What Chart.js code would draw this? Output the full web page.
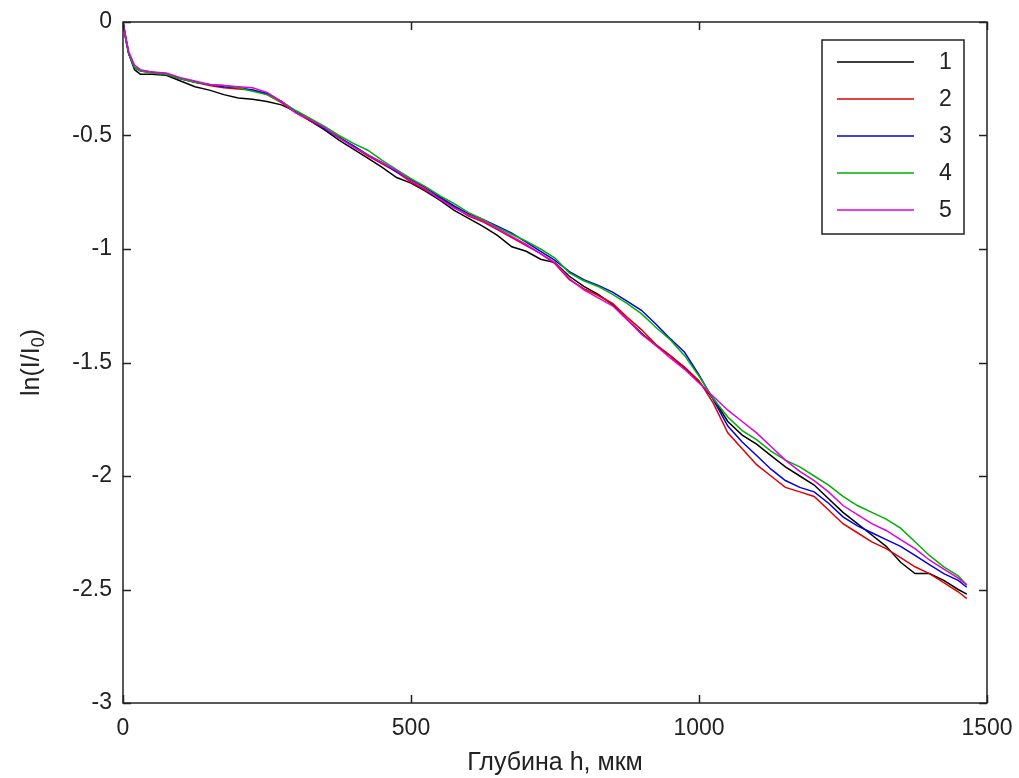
<!DOCTYPE html>
<html>
<head>
<meta charset="utf-8">
<title>ln(I/I0) vs depth</title>
<script src="https://cdn.jsdelivr.net/npm/chart.js@4.4.1/dist/chart.umd.min.js"></script>
<style>
    html, body { margin: 0; padding: 0; background: #fff; }
    canvas { display: block; }
</style>
</head>
<body>
<canvas id="chart" width="1019" height="778"></canvas>
<script>
// depth, µm
const depth = [0, 5, 10, 20, 30, 50, 75, 100, 125, 150, 175, 200, 225, 250, 275, 300, 325, 350, 375, 400,
    425, 450, 475, 500, 525, 550, 575, 600, 625, 650, 675, 700, 725, 750, 775, 800, 825, 850, 875, 900,
    925, 950, 975, 1000, 1025, 1050, 1075, 1100, 1125, 1150, 1175, 1200, 1225, 1250, 1275, 1300, 1325, 1350, 1375, 1400,
    1425, 1450, 1465];

// ln(I/I0) for curves 1..5
const curve1 = [0, -0.07, -0.14, -0.21, -0.23, -0.23, -0.235, -0.26, -0.285, -0.30, -0.32, -0.335, -0.34, -0.35, -0.365, -0.395, -0.435, -0.475, -0.52, -0.56,
    -0.60, -0.64, -0.685, -0.71, -0.745, -0.785, -0.83, -0.865, -0.90, -0.94, -0.99, -1.01, -1.045, -1.06, -1.12, -1.165, -1.20, -1.245, -1.31, -1.37,
    -1.425, -1.47, -1.525, -1.585, -1.66, -1.76, -1.82, -1.86, -1.91, -1.96, -2.00, -2.04, -2.10, -2.16, -2.21, -2.26, -2.31, -2.38, -2.43, -2.43,
    -2.46, -2.50, -2.52];
const curve2 = [0, -0.08, -0.14, -0.20, -0.215, -0.225, -0.23, -0.25, -0.265, -0.28, -0.29, -0.295, -0.30, -0.32, -0.355, -0.40, -0.435, -0.47, -0.505, -0.55,
    -0.59, -0.625, -0.66, -0.705, -0.74, -0.775, -0.815, -0.855, -0.88, -0.915, -0.95, -0.985, -1.02, -1.065, -1.135, -1.175, -1.205, -1.24, -1.30, -1.355,
    -1.42, -1.47, -1.52, -1.58, -1.68, -1.81, -1.88, -1.95, -2.00, -2.05, -2.07, -2.09, -2.15, -2.21, -2.25, -2.29, -2.32, -2.36, -2.40, -2.43,
    -2.47, -2.51, -2.54];
const curve3 = [0, -0.08, -0.14, -0.20, -0.215, -0.22, -0.23, -0.25, -0.265, -0.275, -0.285, -0.29, -0.30, -0.315, -0.35, -0.395, -0.43, -0.47, -0.51, -0.545,
    -0.585, -0.62, -0.66, -0.695, -0.73, -0.77, -0.81, -0.845, -0.87, -0.90, -0.93, -0.97, -1.01, -1.05, -1.10, -1.135, -1.16, -1.19, -1.23, -1.27,
    -1.33, -1.395, -1.455, -1.555, -1.665, -1.78, -1.85, -1.91, -1.97, -2.02, -2.05, -2.07, -2.12, -2.18, -2.22, -2.25, -2.28, -2.31, -2.35, -2.39,
    -2.43, -2.46, -2.49];
const curve4 = [0, -0.08, -0.14, -0.20, -0.215, -0.225, -0.23, -0.25, -0.265, -0.275, -0.28, -0.29, -0.305, -0.32, -0.35, -0.39, -0.425, -0.46, -0.50, -0.535,
    -0.565, -0.61, -0.65, -0.69, -0.725, -0.765, -0.80, -0.84, -0.87, -0.905, -0.935, -0.965, -1.00, -1.04, -1.105, -1.14, -1.165, -1.20, -1.24, -1.285,
    -1.345, -1.40, -1.47, -1.56, -1.66, -1.74, -1.80, -1.84, -1.89, -1.93, -1.96, -2.00, -2.04, -2.09, -2.13, -2.16, -2.19, -2.23, -2.29, -2.35,
    -2.40, -2.44, -2.48];
const curve5 = [0, -0.07, -0.13, -0.19, -0.21, -0.22, -0.225, -0.245, -0.26, -0.275, -0.28, -0.285, -0.29, -0.31, -0.35, -0.40, -0.43, -0.465, -0.51, -0.55,
    -0.585, -0.62, -0.655, -0.70, -0.735, -0.78, -0.82, -0.85, -0.875, -0.91, -0.945, -0.98, -1.02, -1.06, -1.13, -1.18, -1.215, -1.25, -1.31, -1.375,
    -1.425, -1.48, -1.53, -1.59, -1.65, -1.71, -1.76, -1.81, -1.87, -1.93, -1.98, -2.02, -2.07, -2.13, -2.17, -2.21, -2.24, -2.28, -2.32, -2.37,
    -2.41, -2.45, -2.48];

const curveLabels = ['1', '2', '3', '4', '5'];
const curveColors = ['#000000', '#e00000', '#0000e0', '#00b000', '#e000e0'];
const xTicks = [0, 500, 1000, 1500];
const yTicks = [0, -0.5, -1, -1.5, -2, -2.5, -3];

const FONT = '"Liberation Sans", Arial, sans-serif';
const INK = '#222';

document.addEventListener("DOMContentLoaded", () => {
    renderChart();
});

function renderChart() {
    const curves = [curve1, curve2, curve3, curve4, curve5];
    const datasets = curves.map((values, i) => ({
        label: curveLabels[i],
        data: values.map((v, k) => ({ x: depth[k], y: v })),
        borderColor: curveColors[i],
        borderWidth: 1.5,
        pointRadius: 0,
        tension: 0,
        fill: false,
        order: curves.length - 1 - i
    }));

    new Chart(document.getElementById('chart').getContext('2d'), {
        type: 'line',
        data: { datasets: datasets },
        options: {
            responsive: false,
            devicePixelRatio: 1,
            animation: false,
            layout: { padding: { top: 22, right: 32, left: 0, bottom: 0 } },
            plugins: {
                legend: { display: false },
                tooltip: { enabled: false }
            },
            scales: {
                x: {
                    type: 'linear',
                    min: 0,
                    max: 1500,
                    afterBuildTicks: scale => { scale.ticks = xTicks.map(v => ({ value: v })); },
                    afterFit: scale => {
                        scale.height = 75;
                        scale.paddingLeft = 0;
                        scale.paddingRight = 0;
                    },
                    grid: { display: false, drawTicks: false, tickLength: 0 },
                    border: { display: false },
                    ticks: {
                        autoSkip: false,
                        maxRotation: 0,
                        padding: 12,
                        color: INK,
                        font: { family: FONT, size: 23 },
                        callback: v => String(v)
                    },
                    title: {
                        display: true,
                        text: 'Глубина h, мкм',
                        color: INK,
                        font: { family: FONT, size: 25 },
                        padding: { top: 0, bottom: 0 }
                    }
                },
                y: {
                    type: 'linear',
                    min: -3,
                    max: 0,
                    afterBuildTicks: scale => { scale.ticks = yTicks.map(v => ({ value: v })); },
                    afterFit: scale => {
                        scale.width = 123;
                        scale.paddingTop = 0;
                        scale.paddingBottom = 0;
                    },
                    grid: { display: false, drawTicks: false, tickLength: 0 },
                    border: { display: false },
                    ticks: {
                        autoSkip: false,
                        padding: 11,
                        color: INK,
                        font: { family: FONT, size: 23 },
                        callback: v => String(v)
                    }
                }
            }
        },
        plugins: [axesFrame]
    });
}

// MATLAB-like box: frame, inward ticks on all sides, y title with subscript, boxed legend
const axesFrame = {
    id: 'axesFrame',
    afterDraw(chart) {
        const { ctx, chartArea: a, scales: { x, y } } = chart;
        const tick = 8;
        ctx.save();
        ctx.strokeStyle = INK;
        ctx.lineWidth = 1.5;
        ctx.strokeRect(a.left, a.top, a.right - a.left, a.bottom - a.top);

        ctx.beginPath();
        xTicks.forEach(v => {
            const px = Math.round(x.getPixelForValue(v)) + 0.5;
            ctx.moveTo(px, a.bottom); ctx.lineTo(px, a.bottom - tick);
            ctx.moveTo(px, a.top); ctx.lineTo(px, a.top + tick);
        });
        yTicks.forEach(v => {
            const py = Math.round(y.getPixelForValue(v)) + 0.5;
            ctx.moveTo(a.left, py); ctx.lineTo(a.left + tick, py);
            ctx.moveTo(a.right, py); ctx.lineTo(a.right - tick, py);
        });
        ctx.stroke();

        // y axis title: ln(I/I0) with subscript 0
        ctx.save();
        ctx.translate(32, (a.top + a.bottom) / 2);
        ctx.rotate(-Math.PI / 2);
        ctx.fillStyle = INK;
        ctx.textBaseline = 'middle';
        const mainFont = '25px ' + FONT;
        const subFont = '18px ' + FONT;
        ctx.font = mainFont;
        const w1 = ctx.measureText('ln(I/I').width;
        const w3 = ctx.measureText(')').width;
        ctx.font = subFont;
        const w2 = ctx.measureText('0').width;
        let cx = -(w1 + w2 + w3) / 2;
        ctx.textAlign = 'left';
        ctx.font = mainFont;
        ctx.fillText('ln(I/I', cx, 0);
        cx += w1;
        ctx.font = subFont;
        ctx.fillText('0', cx, 7);
        cx += w2;
        ctx.font = mainFont;
        ctx.fillText(')', cx, 0);
        ctx.restore();

        // legend box
        const boxRight = a.right - 23;
        const boxTop = a.top + 18;
        const boxW = 142;
        const boxH = 194;
        const boxLeft = boxRight - boxW;
        ctx.fillStyle = '#fff';
        ctx.fillRect(boxLeft, boxTop, boxW, boxH);
        ctx.strokeStyle = INK;
        ctx.lineWidth = 1.5;
        ctx.strokeRect(boxLeft, boxTop, boxW, boxH);
        ctx.font = '23px ' + FONT;
        ctx.textAlign = 'left';
        ctx.textBaseline = 'middle';
        chart.data.datasets.forEach((ds, i) => {
            const ly = boxTop + 22 + i * 37;
            ctx.strokeStyle = ds.borderColor;
            ctx.lineWidth = 1.6;
            ctx.beginPath();
            ctx.moveTo(boxLeft + 15, ly);
            ctx.lineTo(boxLeft + 92, ly);
            ctx.stroke();
            ctx.fillStyle = INK;
            ctx.fillText(ds.label, boxLeft + 117, ly + 1);
        });
        ctx.restore();
    }
};
</script>
</body>
</html>
